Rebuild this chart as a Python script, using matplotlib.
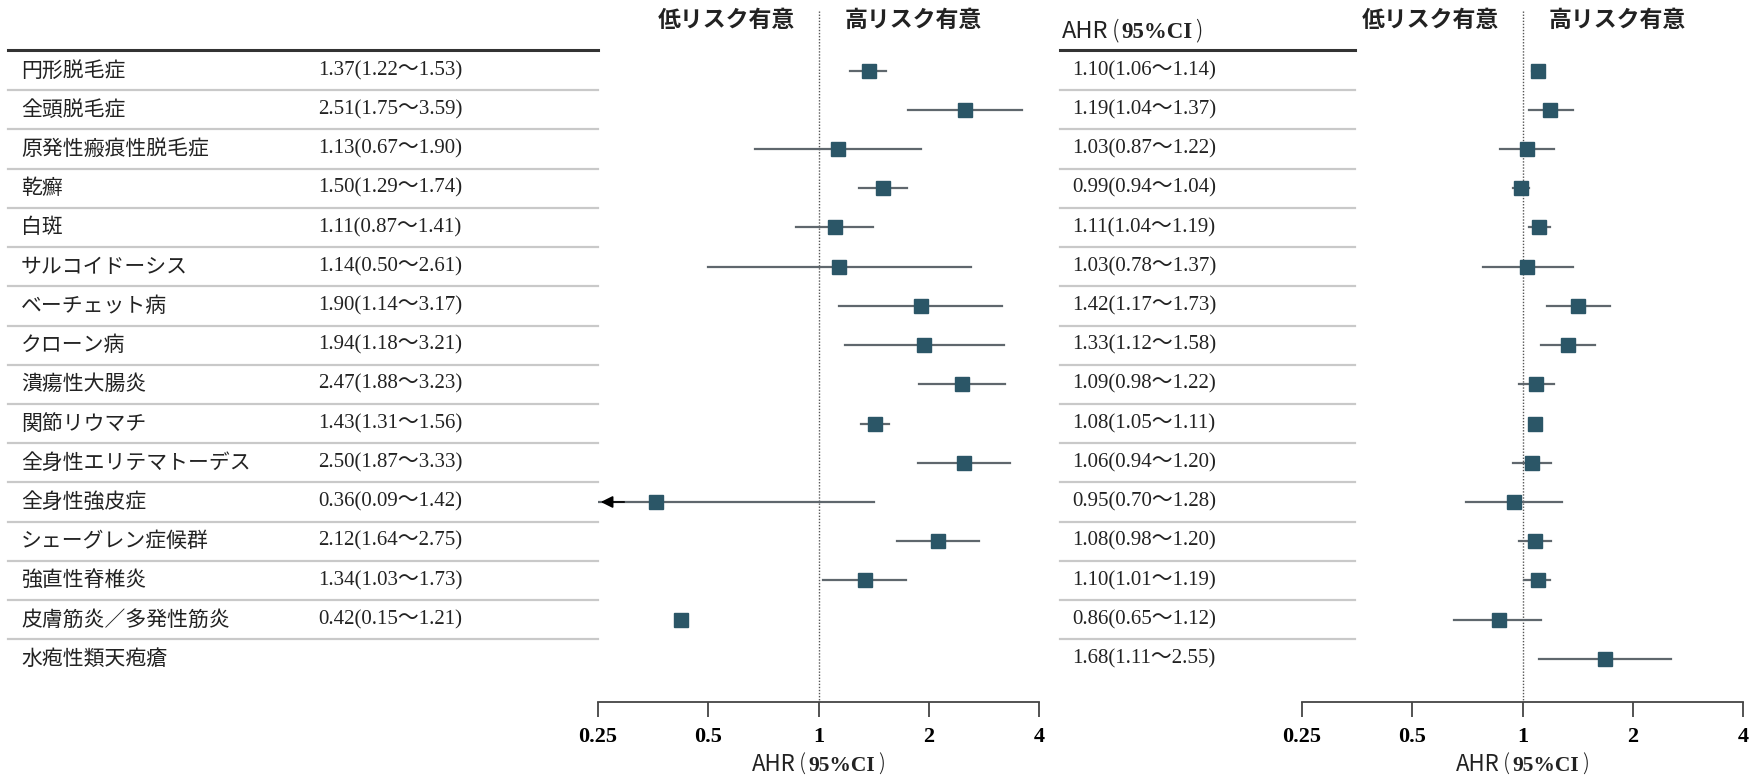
import numpy as np
import matplotlib
matplotlib.use("Agg")
import matplotlib.pyplot as plt
import matplotlib.transforms as mtransforms
from matplotlib.offsetbox import TextArea, HPacker, AnnotationBbox

plt.rcParams["font.family"] = ["Noto Sans CJK JP", "DejaVu Sans"]

# data
diseases = ["円形脱毛症", "全頭脱毛症", "原発性瘢痕性脱毛症", "乾癬", "白斑",
            "サルコイドーシス", "ベーチェット病", "クローン病", "潰瘍性大腸炎",
            "関節リウマチ", "全身性エリテマトーデス", "全身性強皮症",
            "シェーグレン症候群", "強直性脊椎炎", "皮膚筋炎／多発性筋炎",
            "水疱性類天疱瘡"]

left_hr = [1.37, 2.51, 1.13, 1.50, 1.11, 1.14, 1.90, 1.94, 2.47, 1.43, 2.50,
           0.36, 2.12, 1.34, 0.42, None]
left_lo = [1.22, 1.75, 0.67, 1.29, 0.87, 0.50, 1.14, 1.18, 1.88, 1.31, 1.87,
           0.09, 1.64, 1.03, 0.15, None]
left_hi = [1.53, 3.59, 1.90, 1.74, 1.41, 2.61, 3.17, 3.21, 3.23, 1.56, 3.33,
           1.42, 2.75, 1.73, 1.21, None]
# the reference draws no CI line for this row
left_no_ci = [14]

right_hr = [1.10, 1.19, 1.03, 0.99, 1.11, 1.03, 1.42, 1.33, 1.09, 1.08, 1.06,
            0.95, 1.08, 1.10, 0.86, 1.68]
right_lo = [1.06, 1.04, 0.87, 0.94, 1.04, 0.78, 1.17, 1.12, 0.98, 1.05, 0.94,
            0.70, 0.98, 1.01, 0.65, 1.11]
right_hi = [1.14, 1.37, 1.22, 1.04, 1.19, 1.37, 1.73, 1.58, 1.22, 1.11, 1.20,
            1.28, 1.20, 1.19, 1.12, 2.55]

ticks = [0.25, 0.5, 1, 2, 4]
tick_labels = ["0.25", "0.5", "1", "2", "4"]

W, H = 1755, 777
fig = plt.figure(figsize=(W / 100, H / 100), dpi=100)

sq_color = "#2b5667"
ci_color = "#5f676d"
serif = ["Liberation Serif", "Noto Sans CJK JP"]
n = len(diseases)
rows = np.arange(n)


def fx(px):
    return px / W


def fmt(hr, lo, hi):
    return f"{hr:.2f}({lo:.2f}～{hi:.2f})"


def ahr_label(ax, x, y, coords, size=16):
    sans = dict(family="Noto Sans CJK JP", size=size, color="#222222")
    parts = [
        TextArea("AHR", textprops=sans),
        TextArea("(", textprops=dict(sans, weight="light")),
        TextArea("95%CI", textprops=dict(family="Liberation Serif", size=size - 0.5,
                                         weight="bold", color="#222222")),
        TextArea(")", textprops=dict(sans, weight="light")),
    ]
    box = HPacker(children=parts, align="baseline", pad=0, sep=2)
    ab = AnnotationBbox(box, (x, y), xycoords=coords, frameon=False,
                        box_alignment=(0.0 if coords != "data" else 0.5, 0.5),
                        annotation_clip=False)
    ax.add_artist(ab)


def forest(left_px, hr, lo, hi, no_ci=()):
    ax = fig.add_axes([fx(left_px), (H - 702) / H, fx(441), 702 / H])
    ax.set_xscale("log", base=2)
    ax.set_xlim(0.25, 4)
    ax.set_ylim(16.1, -1.8)
    for s in ["left", "right", "top"]:
        ax.spines[s].set_visible(False)
    ax.spines["bottom"].set_color("#444444")
    ax.spines["bottom"].set_linewidth(1.3)
    ax.set_yticks([])
    ax.set_xticks(ticks)
    ax.set_xticklabels(tick_labels, family="Liberation Serif", weight="bold", size=16)
    ax.xaxis.set_minor_locator(matplotlib.ticker.NullLocator())
    ax.tick_params(axis="x", direction="out", length=11, width=1.3, color="#444444", pad=7)
    ax.plot([1, 1], [-1.52, 16.1], ls=(0, (1, 1.2)), color="#555555", lw=1.0, zorder=1)

    for i in rows:
        if hr[i] is None:
            continue
        if i not in no_ci:
            a, b = max(lo[i], 0.25), min(hi[i], 4)
            ax.plot([a, b], [i, i], color=ci_color, lw=1.6, zorder=2)
            if lo[i] < 0.25:
                ax.annotate("", xy=(0.25, i), xytext=(0.3, i),
                            arrowprops=dict(arrowstyle="-|>", color="black", lw=1.2,
                                            mutation_scale=18), annotation_clip=False)
        ax.plot(hr[i], i, marker="s", ms=9.5, color=sq_color, mec=sq_color, zorder=3)

    ax.annotate("低リスク有意", xy=(1, -1.29), xytext=(-23, 0), textcoords="offset pixels",
                ha="right", va="center", size=16.5, weight="bold", color="#222222")
    ax.annotate("高リスク有意", xy=(1, -1.29), xytext=(26, 0), textcoords="offset pixels",
                ha="left", va="center", size=16.5, weight="bold", color="#222222")
    ahr_label(ax, 1, 16.1 + 62 / 39.2, "data", size=16)
    return ax


axL = forest(598, left_hr, left_lo, left_hi, left_no_ci)
axR = forest(1302, right_hr, right_lo, right_hi)

# left table
trL = mtransforms.blended_transform_factory(fig.transFigure, axL.transData)
axL.plot([fx(8), fx(598)], [-0.52, -0.52], transform=trL, color="#333333", lw=2.2, clip_on=False)
for i in rows:
    axL.text(fx(21), i, diseases[i], transform=trL, va="center", ha="left", size=15, color="#222222")
    if left_hr[i] is not None:
        axL.text(fx(318), i, fmt(left_hr[i], left_lo[i], left_hi[i]), transform=trL,
                 va="center", ha="left", size=15, family=serif, color="#222222")
    if i < n - 1:
        axL.plot([fx(8), fx(598)], [i + 0.5, i + 0.5], transform=trL, color="#c9c9c9",
                 lw=1.6, clip_on=False)

# right table
trR = mtransforms.blended_transform_factory(fig.transFigure, axR.transData)
axR.plot([fx(1060), fx(1355)], [-0.52, -0.52], transform=trR, color="#333333", lw=2.2, clip_on=False)
ahr_label(axR, fx(1062), -1.0, trR, size=17)
for i in rows:
    axR.text(fx(1072), i, fmt(right_hr[i], right_lo[i], right_hi[i]), transform=trR,
             va="center", ha="left", size=15, family=serif, color="#222222")
    if i < n - 1:
        axR.plot([fx(1060), fx(1355)], [i + 0.5, i + 0.5], transform=trR, color="#c9c9c9",
                 lw=1.6, clip_on=False)

fig.savefig("out.png", dpi=100)
